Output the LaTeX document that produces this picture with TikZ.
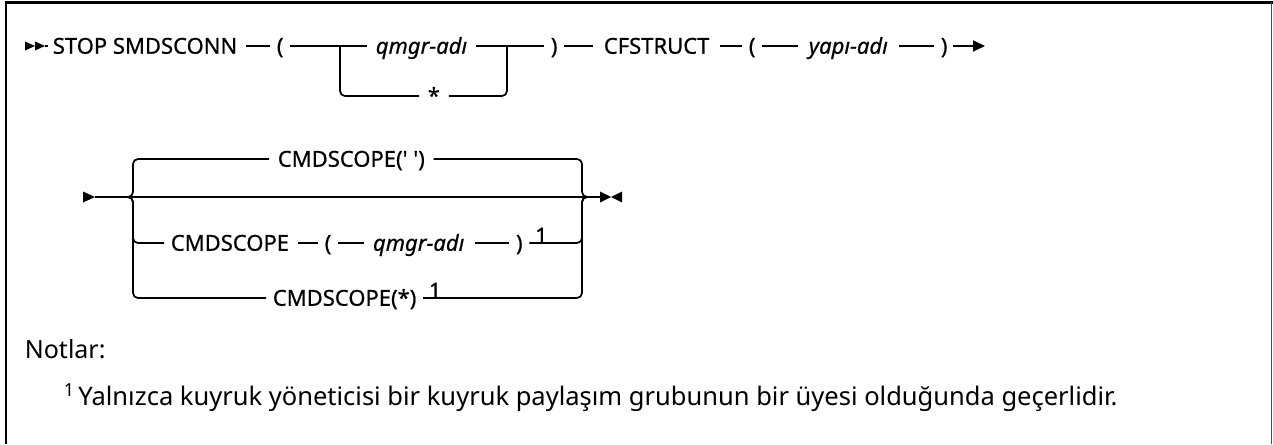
\documentclass[tikz,border=0pt]{standalone}
\usepackage{fontspec}
\setmainfont{Noto Sans}
\newfontfamily\diagfont{Noto Sans}[FakeBold=0.6,AutoFakeBold=0.6]
\usetikzlibrary{arrows.meta,positioning}
\begin{document}
\begin{tikzpicture}[x=1pt,y=-1pt,line width=1.7pt,
  lbl/.style={inner sep=0pt,anchor=west,text height=20pt,text depth=4.5pt,font=\diagfont\fontsize{22}{26}\selectfont\addfontfeature{FakeBold=0.6}},
  var/.style={lbl,font=\diagfont\fontsize{22}{26}\selectfont\itshape\addfontfeature{FakeBold=0.6}},
  sup/.style={inner sep=0pt,anchor=base west,font=\diagfont\fontsize{21}{25}\selectfont\addfontfeature{FakeBold=0.6}},
  rc/.style={rounded corners=5pt},
]
\useasboundingbox (0,0) rectangle (1273,444);
% frame
\draw[line width=3pt] (5,2.5) -- (1273,2.5);
\draw[line width=2pt] (6,1) -- (6,444);
\draw[line width=1pt,black!70] (1271.5,2) -- (1271.5,444);

% ---------- row 1 ----------
\coordinate (s1) at (45,46);
\fill (25,41.5) -- (35,46) -- (25,50.5) -- cycle;
\fill (35,41.5) -- (45,46) -- (35,50.5) -- cycle;
\node[lbl] (stop) at (52,46) {STOP SMDSCONN};
\node[lbl] (lp1) at (276,46) {(};
\node[var] (qm1) at (375,46) {qmgr-adı};
\node[lbl] (st) at (427,96) {*};
\node[lbl] (rp1) at (550,46) {)};
\node[lbl] (cfs) at (603,46) {CFSTRUCT};
\node[lbl] (lp2) at (748,46) {(};
\node[var] (yapi) at (808,46) {yapı-adı};
\node[lbl] (rp2) at (940,46) {)};
\coordinate (bl1) at (340,46);
\coordinate (br1) at (507,46);
\coordinate (e1) at (985,46);

\draw (s1) -- ([xshift=-4pt]stop.west);
\draw ([xshift=8pt]stop.east) -- ([xshift=-6pt]lp1.west);
\draw ([xshift=6pt]lp1.east) -- ([xshift=-8pt]qm1.west);
\draw[rc] (bl1) -- (bl1 |- st) -- ([xshift=-8pt]st.west);
\draw[rc] ([xshift=8pt]st.east) -- (br1 |- st) -- (br1);
\draw ([xshift=8pt]qm1.east) -- ([xshift=-6pt]rp1.west);
\draw ([xshift=6pt]rp1.east) -- ([xshift=-10pt]cfs.west);
\draw ([xshift=10pt]cfs.east) -- ([xshift=-6pt]lp2.west);
\draw ([xshift=6pt]lp2.east) -- ([xshift=-10pt]yapi.west);
\draw ([xshift=10pt]yapi.east) -- ([xshift=-6pt]rp2.west);
\draw[-{Triangle[length=12pt,width=11pt]}] ([xshift=5pt]rp2.east) -- (e1);

% ---------- row 2 ----------
\coordinate (s2) at (95,197);
\coordinate (e2) at (600,197);
\coordinate (bl2) at (133,197);
\coordinate (br2) at (582,197);
\fill (83,191.5) -- (95,197) -- (83,202.5) -- cycle;
\fill (600,191.5) -- (611,197) -- (600,202.5) -- cycle;
\fill (622,191.5) -- (611,197) -- (622,202.5) -- cycle;
\draw (s2) -- (e2);

\node[lbl] (c1) at (277,159) {CMDSCOPE(\textquotesingle\ \textquotesingle)};
\node[lbl] (c2) at (170,243) {CMDSCOPE};
\node[lbl,right=34pt of c2] (lp3) {(};
\node[var,right=40pt of lp3] (qm2) {qmgr-adı};
\node[lbl,right=50pt of qm2] (rp3) {)};
\node[sup,anchor=base west] (n1) at ([xshift=11pt,yshift=8pt]rp3.base east) {1};
\node[lbl] (c3) at (272,298) {CMDSCOPE(*)};
\node[sup,anchor=base west] (n2) at ([xshift=11pt,yshift=8pt]c3.base east) {1};

% left fork
\draw[rc] ([xshift=-8pt]bl2) -- (bl2) -- (bl2 |- c1) -- ([xshift=-8pt]c1.west);
\draw[rc] ([xshift=-8pt]bl2) -- (bl2) -- (bl2 |- c2) -- ([xshift=-6pt]c2.west);
\draw[rc] ([xshift=-8pt]bl2) -- (bl2) -- (bl2 |- c3) -- ([xshift=-6pt]c3.west);
% right fork
\draw[rc] ([xshift=8pt]c1.east) -- (br2 |- c1) -- (br2) -- ([xshift=8pt]br2);
\draw[rc] ([xshift=6pt]rp3.east) -- (br2 |- rp3) -- (br2) -- ([xshift=8pt]br2);
\draw[rc] ([xshift=6pt]c3.east) -- (br2 |- c3) -- (br2) -- ([xshift=8pt]br2);
% inner connectors
\draw ([xshift=8pt]c2.east) -- ([xshift=-6pt]lp3.west);
\draw ([xshift=6pt]lp3.east) -- ([xshift=-8pt]qm2.west);
\draw ([xshift=10pt]qm2.east) -- ([xshift=-6pt]rp3.west);

% ---------- notes ----------
\node[inner sep=0pt,anchor=base west,font=\fontsize{25}{30}\selectfont] (notlar) at (24,358) {Notlar:};
\node[inner sep=0pt,anchor=base west,font=\fontsize{25.5}{30}\selectfont] (note) at (63,405)
  {\raisebox{9pt}{\fontsize{18}{21}\selectfont 1}\,Yalnızca kuyruk yöneticisi bir kuyruk paylaşım grubunun bir üyesi olduğunda geçerlidir.};
\end{tikzpicture}
\end{document}
